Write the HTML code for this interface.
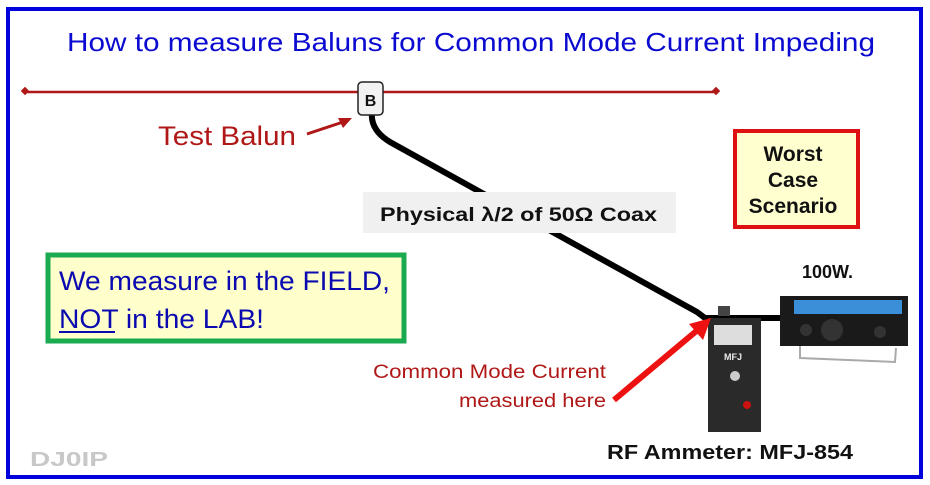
<!DOCTYPE html>
<html><head><meta charset="utf-8"><style>
html,body{margin:0;padding:0;background:#fff;}
svg{display:block;}
text{font-family:"Liberation Sans",sans-serif;}
</style></head><body>
<svg width="930" height="485" viewBox="0 0 930 485" xmlns="http://www.w3.org/2000/svg">
<rect x="0" y="0" width="930" height="485" fill="#fff"/>
<rect x="8" y="9" width="913" height="468" fill="none" stroke="#0000dd" stroke-width="4"/>
<text x="67" y="51" font-size="26" fill="#0a0ad0" textLength="808" lengthAdjust="spacingAndGlyphs">How to measure Baluns for Common Mode Current Impeding</text>
<!-- antenna -->
<line x1="26" y1="92" x2="716" y2="92" stroke="#b01818" stroke-width="2.5"/>
<rect x="22" y="88" width="6" height="6" fill="#b01818" transform="rotate(45 25 91)"/>
<rect x="713" y="88" width="6" height="6" fill="#b01818" transform="rotate(45 716 91)"/>
<!-- cable -->
<path d="M372 112 Q370 130 390 142 L697 312 L705 318 L782 318" fill="none" stroke="#000" stroke-width="6"/>
<rect x="358" y="82" width="25" height="33" rx="4" fill="#f2f2f2" stroke="#222" stroke-width="1.5"/>
<text x="370.5" y="106" font-size="16" font-weight="bold" text-anchor="middle" fill="#111">B</text>
<text x="158" y="145" font-size="27" fill="#b01818" textLength="138" lengthAdjust="spacingAndGlyphs">Test Balun</text>
<line x1="307" y1="134" x2="343" y2="122" stroke="#b01818" stroke-width="3"/>
<polygon points="352,118 338,118 343,128" fill="#b01818"/>
<!-- coax label -->
<rect x="363" y="192" width="313" height="41" fill="#f0f0f0"/>
<text x="380" y="221" font-size="19" font-weight="bold" fill="#111" textLength="277" lengthAdjust="spacingAndGlyphs">Physical λ/2 of 50Ω Coax</text>
<!-- worst case -->
<rect x="735" y="131" width="123" height="96" fill="#ffffd0" stroke="#dd1111" stroke-width="4"/>
<text x="793" y="161" font-size="21" font-weight="bold" text-anchor="middle" fill="#111">Worst</text>
<text x="793" y="187" font-size="21" font-weight="bold" text-anchor="middle" fill="#111">Case</text>
<text x="793" y="213" font-size="21" font-weight="bold" text-anchor="middle" fill="#111">Scenario</text>
<!-- green box -->
<rect x="48" y="255" width="356" height="86" fill="#ffffcc" stroke="#1aaa50" stroke-width="5"/>
<text x="59" y="290" font-size="27" fill="#0a0ab0" textLength="331" lengthAdjust="spacingAndGlyphs">We measure in the FIELD,</text>
<text x="59" y="328" font-size="27" fill="#0a0ab0" textLength="205" lengthAdjust="spacingAndGlyphs">NOT in the LAB!</text>
<line x1="59" y1="332" x2="115" y2="332" stroke="#0a0ab0" stroke-width="2"/>
<!-- 100W -->
<text x="802" y="278" font-size="18" font-weight="bold" fill="#111">100W.</text>
<!-- radio -->
<rect x="780" y="296" width="128" height="50" fill="#1a1a1a"/>
<rect x="794" y="300" width="108" height="14" fill="#3a8fd8"/>
<circle cx="832" cy="330" r="11" fill="#333"/>
<circle cx="806" cy="330" r="6" fill="#333"/>
<circle cx="880" cy="332" r="6" fill="#333"/>
<path d="M800 346 L800 358 L895 362 L896 348" fill="none" stroke="#aaa" stroke-width="2"/>
<!-- meter -->
<rect x="718" y="306" width="12" height="10" fill="#444"/>
<rect x="708" y="318" width="53" height="114" fill="#2a2a2a"/>
<rect x="714" y="325" width="38" height="20" fill="#ddd"/>
<text x="733" y="360" font-size="9" font-weight="bold" text-anchor="middle" fill="#eee">MFJ</text>
<circle cx="735" cy="376" r="5" fill="#ccc"/>
<circle cx="747" cy="405" r="4" fill="#c11"/>
<!-- red arrow -->
<line x1="614" y1="400" x2="700" y2="328" stroke="#ee1111" stroke-width="6"/>
<polygon points="711,318 689,324 703,340" fill="#ee1111"/>
<text x="373" y="378" font-size="19" fill="#b01818" textLength="233" lengthAdjust="spacingAndGlyphs">Common Mode Current</text>
<text x="459" y="407" font-size="19" fill="#b01818" textLength="147" lengthAdjust="spacingAndGlyphs">measured here</text>
<text x="607" y="459" font-size="20" font-weight="bold" fill="#111" textLength="246" lengthAdjust="spacingAndGlyphs">RF Ammeter: MFJ-854</text>
<text x="30" y="466" font-size="20" font-family="Liberation Mono" font-weight="bold" fill="#c8c8c8" textLength="78" lengthAdjust="spacingAndGlyphs">DJ0IP</text>
</svg>
</body></html>
